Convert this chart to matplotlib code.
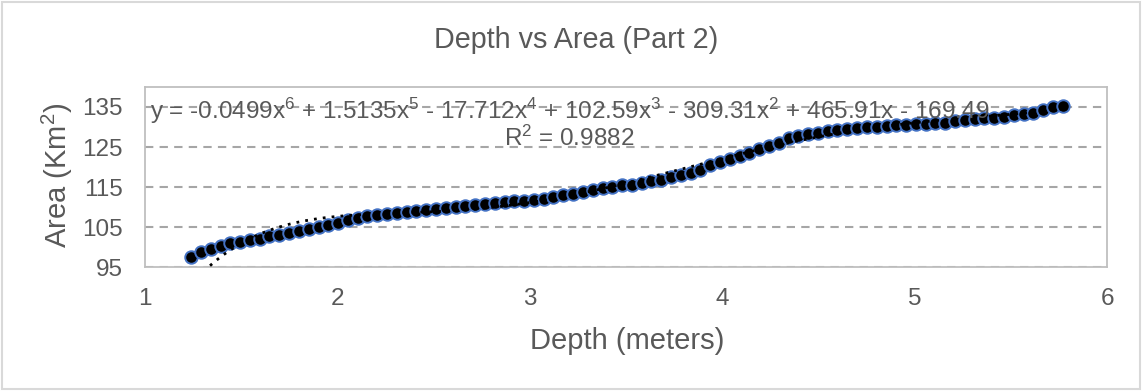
import numpy as np
import matplotlib
matplotlib.use('Agg')
import matplotlib.pyplot as plt
from matplotlib.patches import Rectangle

plt.rcParams['font.family'] = ['Liberation Sans', 'DejaVu Sans']
plt.rcParams['mathtext.fontset'] = 'custom'
plt.rcParams['mathtext.rm'] = 'Liberation Sans'
plt.rcParams['mathtext.it'] = 'Liberation Sans:italic'

# Depth (m) and surface area (km2)
depth = [1.240, 1.291, 1.342, 1.393, 1.444, 1.495, 1.545, 1.596, 1.647, 1.698,
         1.749, 1.800, 1.851, 1.902, 1.953, 2.004, 2.054, 2.105, 2.156, 2.207,
         2.258, 2.309, 2.360, 2.411, 2.462, 2.513, 2.563, 2.614, 2.665, 2.716,
         2.767, 2.818, 2.869, 2.920, 2.971, 3.022, 3.072, 3.123, 3.174, 3.225,
         3.276, 3.327, 3.378, 3.429, 3.480, 3.531, 3.581, 3.632, 3.683, 3.734,
         3.785, 3.836, 3.887, 3.938, 3.989, 4.040, 4.090, 4.141, 4.192, 4.243,
         4.294, 4.345, 4.396, 4.447, 4.498, 4.549, 4.599, 4.650, 4.701, 4.752,
         4.803, 4.854, 4.905, 4.956, 5.007, 5.058, 5.108, 5.159, 5.210, 5.261,
         5.312, 5.363, 5.414, 5.465, 5.516, 5.567, 5.617, 5.668, 5.719, 5.770]
area = [97.6, 98.8, 99.6, 100.2, 100.9, 101.3, 101.7, 102.1, 102.7, 103.1,
        103.5, 104.0, 104.4, 104.9, 105.4, 106.1, 106.8, 107.3, 107.7, 107.9,
        108.2, 108.5, 108.7, 109.0, 109.3, 109.6, 109.7, 110.0, 110.2, 110.4,
        110.7, 111.0, 111.2, 111.4, 111.6, 111.8, 112.1, 112.5, 112.9, 113.3,
        113.7, 114.3, 114.7, 115.1, 115.4, 115.6, 115.9, 116.4, 116.8, 117.4,
        118.1, 118.4, 119.3, 120.5, 121.2, 122.0, 122.8, 123.6, 124.5, 125.3,
        126.1, 127.2, 127.8, 128.2, 128.6, 128.9, 129.2, 129.5, 129.7, 129.9,
        130.0, 130.3, 130.5, 130.5, 130.7, 130.8, 131.0, 131.1, 131.4, 131.7,
        132.0, 132.2, 132.3, 132.6, 132.9, 133.2, 133.6, 134.2, 134.9, 135.3]

# trendline coefficients as printed on the chart (6th order polynomial)
coeffs = [-0.0499, 1.5135, -17.712, 102.59, -309.31, 465.91, -169.49]
eq_label = ('y = -0.0499x$^{6}$ + 1.5135x$^{5}$ - 17.712x$^{4}$ + 102.59x$^{3}$ '
            '- 309.31x$^{2}$ + 465.91x - 169.49\nR$^{2}$ = 0.9882')

text_col = '#595959'

fig = plt.figure(figsize=(11.46, 3.91), dpi=100)
ax = fig.add_axes([0.1265, 0.3171, 0.8395, 0.4604])

ax.plot(depth, area, color='#4472C4', lw=1.5, marker='o', markersize=9,
        markerfacecolor='black', markeredgecolor='#4472C4', markeredgewidth=1.4,
        zorder=3)

# polynomial trend line from the printed equation
xs = np.linspace(min(depth), max(depth), 400)
ax.plot(xs, np.polyval(coeffs, xs), color='black', lw=2, ls=(0, (1, 2.2)), zorder=4)

ax.set_xlim(1, 6)
ax.set_ylim(95, 140)
ax.set_xticks([1, 2, 3, 4, 5, 6])
ax.set_yticks([95, 105, 115, 125, 135])
ax.tick_params(length=0, labelsize=17.5, labelcolor=text_col)
ax.tick_params(axis='x', pad=15)
ax.tick_params(axis='y', pad=16)
ax.yaxis.grid(True, color='#A6A6A6', lw=1.5, ls=(0, (4, 3)))
ax.set_axisbelow(True)
for s in ax.spines.values():
    s.set_color('#BFBFBF')
    s.set_linewidth(1.3)

ax.text(0.441, 0.80, eq_label, transform=ax.transAxes, ha='center', va='center',
        fontsize=17.5, color=text_col, multialignment='center', zorder=5,
        linespacing=1.0)

fig.text(0.5026, 0.898, 'Depth vs Area (Part 2)', ha='center', va='center',
         fontsize=20.7, color=text_col)
fig.text(0.547, 0.128, 'Depth (meters)', ha='center', va='center',
         fontsize=21, color=text_col)
fig.text(0.050, 0.552, 'Area (Km$^{2}$)', ha='center', va='center',
         rotation=90, fontsize=21, color=text_col)

fig.patches.append(Rectangle((0.002, 0.004), 0.993, 0.992, transform=fig.transFigure,
                             fill=False, edgecolor='#D9D9D9', lw=1.5))

fig.savefig('out.png', dpi=100)
